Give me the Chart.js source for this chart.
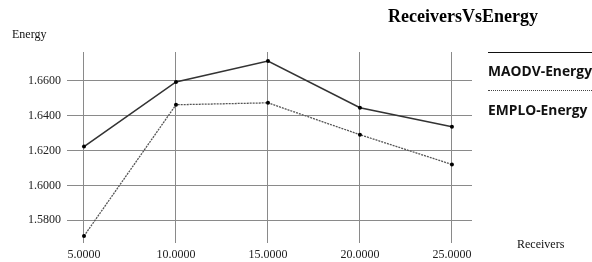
<!DOCTYPE html>
<html><head><meta charset="utf-8">
<script src="https://cdn.jsdelivr.net/npm/chart.js@4"></script>
<style>
html,body{margin:0;padding:0;background:#fff;}
#wrap{position:relative;width:592px;height:262px;overflow:hidden;}
canvas{position:absolute;left:0;top:0;}
.t{position:absolute;white-space:nowrap;color:#111;line-height:1;}
</style></head>
<body><div id="wrap">
<canvas id="c" width="592" height="262"></canvas>
<div class="t" id="title" style="left:388px;top:6px;font:bold 18px 'Liberation Serif',serif;color:#000;">ReceiversVsEnergy</div>
<div class="t" style="left:12px;top:27px;font:12px 'Liberation Serif',serif;">Energy</div>
<div class="t" style="left:517px;top:237px;font:12px 'Liberation Serif',serif;">Receivers</div>
<div style="position:absolute;left:488px;top:52px;width:110px;border-top:1.5px solid #111;"></div>
<div class="t" style="left:488px;top:61px;font:bold 13.8px 'Open Sans',sans-serif;">MAODV-Energy</div>
<div style="position:absolute;left:488px;top:90px;width:110px;border-top:1px dotted #444;"></div>
<div class="t" style="left:488px;top:100px;font:bold 13.8px 'Open Sans',sans-serif;">EMPLO-Energy</div>
</div>
<script>
const receivers = [5, 10, 15, 20, 25];
const maodvEnergy = [1.6223, 1.6594, 1.6714, 1.6446, 1.6337];
const emploEnergy = [1.5709, 1.6463, 1.6474, 1.6291, 1.6120];
const yTicks = [1.58, 1.60, 1.62, 1.64, 1.66];
const xTicks = [5, 10, 15, 20, 25];

const pts = (xs, ys) => xs.map((x, i) => ({x: x, y: ys[i]}));

new Chart(document.getElementById('c'), {
  type: 'line',
  data: {
    datasets: [
      {label: 'MAODV-Energy', data: pts(receivers, maodvEnergy), borderColor: '#333', borderWidth: 1.6,
       pointRadius: 2, pointBackgroundColor: '#000', pointBorderWidth: 0, tension: 0, fill: false},
      {label: 'EMPLO-Energy', data: pts(receivers, emploEnergy), borderColor: '#555', borderWidth: 1.3,
       borderDash: [2, 1], pointRadius: 2, pointBackgroundColor: '#000', pointBorderWidth: 0, tension: 0, fill: false}
    ]
  },
  options: {
    responsive: false, animation: false, devicePixelRatio: 1,
    layout: {padding: {top: 52, right: 120, left: 0, bottom: 0}},
    plugins: {legend: {display: false}, tooltip: {enabled: false}},
    scales: {
      x: {
        type: 'linear', min: 4.076, max: 26.09,
        afterBuildTicks: s => { s.ticks = xTicks.map(v => ({value: v})); },
        afterFit: s => { s.height = 19; },
        grid: {color: '#8a8a8a', lineWidth: 1, drawTicks: false},
        border: {display: false},
        ticks: {padding: 5, color: '#222', font: {family: "'Liberation Serif', serif", size: 12},
                callback: v => Number(v).toFixed(4)}
      },
      y: {
        type: 'linear', min: 1.5669, max: 1.6766,
        afterBuildTicks: s => { s.ticks = yTicks.map(v => ({value: v})); },
        afterFit: s => { s.width = 67; },
        grid: {color: '#8a8a8a', lineWidth: 1, drawTicks: false},
        border: {display: false},
        ticks: {padding: 6, color: '#222', font: {family: "'Liberation Serif', serif", size: 12},
                callback: v => Number(v).toFixed(4)}
      }
    }
  }
});
</script>
</body></html>
